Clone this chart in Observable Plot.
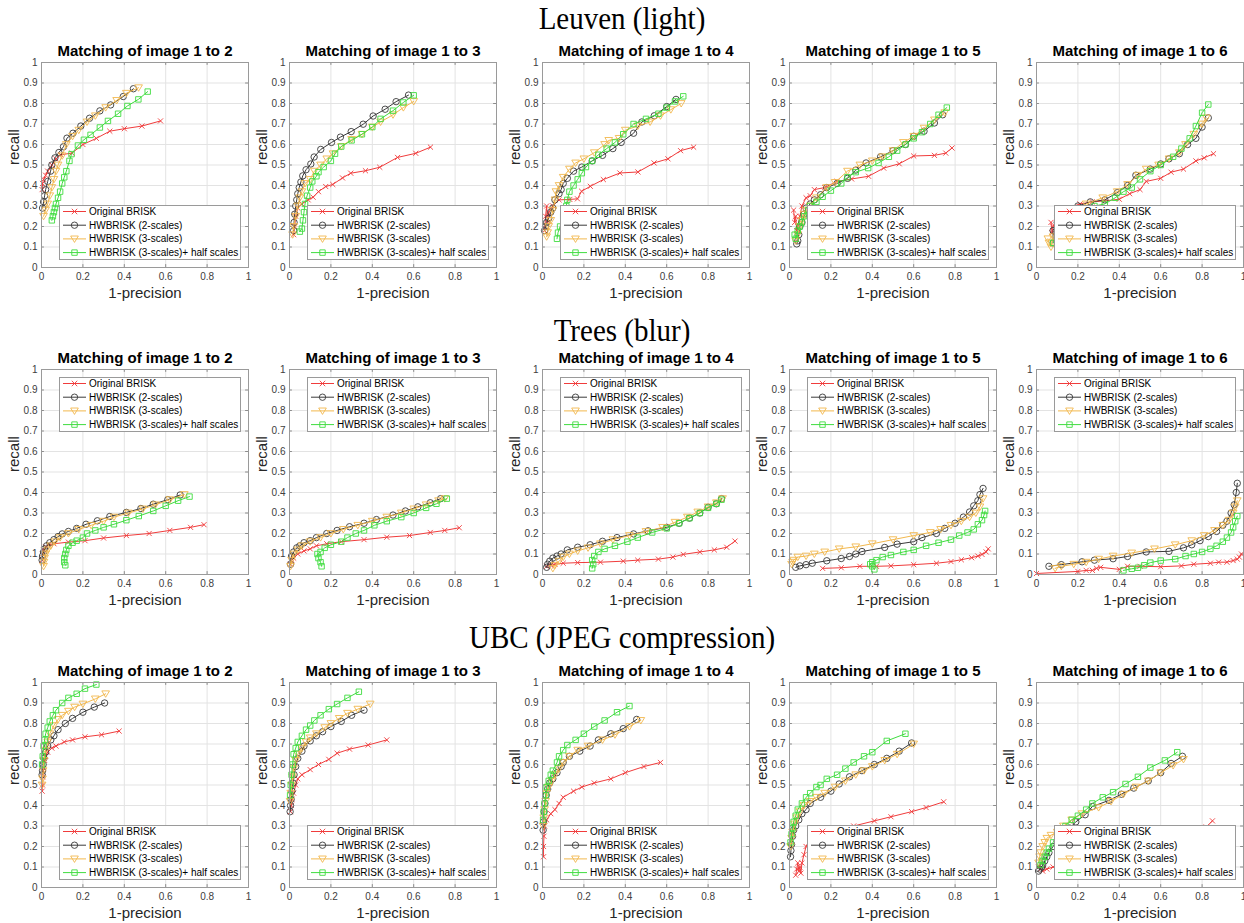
<!DOCTYPE html>
<html><head><meta charset="utf-8">
<script src="https://cdn.jsdelivr.net/npm/d3@7"></script>
<script src="https://cdn.jsdelivr.net/npm/@observablehq/plot@0.6"></script>
<style>
body{margin:0;background:#fff;width:1244px;height:923px;position:relative;overflow:hidden;font-family:"Liberation Sans",Arial,sans-serif;}
.rowtitle{position:absolute;left:0;width:1244px;text-align:center;font-family:"Liberation Serif","Times New Roman",serif;font-size:29px;color:#000;line-height:34px;transform:scaleY(1.12);transform-origin:50% 50%;}
.panel{position:absolute;}
.panel svg{overflow:visible;max-width:none;display:block;}
</style></head><body>
<script>
const rowTitles = ["Leuven (light)", "Trees (blur)", "UBC (JPEG compression)"];
const panelTitles = ["Matching of image 1 to 2","Matching of image 1 to 3","Matching of image 1 to 4","Matching of image 1 to 5","Matching of image 1 to 6"];
const seriesNames = ["Original BRISK","HWBRISK (2-scales)","HWBRISK (3-scales)","HWBRISK (3-scales)+ half scales"];
const xTicks = [0,0.2,0.4,0.6,0.8,1];
const xTickLabels = ["0","0.2","0.4","0.6","0.8","1"];
const yTicks = [0,0.1,0.2,0.3,0.4,0.5,0.6,0.7,0.8,0.9,1];
const yTickLabels = ["0","0.1","0.2","0.3","0.4","0.5","0.6","0.7","0.8","0.9","1"];
const xLabel = "1-precision";
const yLabel = "recall";

// ---- Leuven (light) ----
const leuvenOrig = [
 [[0.003,0.38],[0.005,0.41],[0.01,0.43],[0.02,0.45],[0.03,0.47],[0.05,0.5],[0.07,0.53],[0.092,0.55],[0.147,0.558],[0.2,0.6],[0.265,0.63],[0.33,0.665],[0.4,0.677],[0.485,0.69],[0.575,0.715]],
 [[0.02,0.16],[0.025,0.2],[0.03,0.25],[0.04,0.29],[0.06,0.31],[0.09,0.33],[0.114,0.343],[0.14,0.37],[0.175,0.395],[0.209,0.405],[0.256,0.437],[0.296,0.46],[0.367,0.472],[0.436,0.489],[0.522,0.537],[0.61,0.557],[0.681,0.587]],
 [[0.01,0.18],[0.015,0.25],[0.02,0.3],[0.025,0.22],[0.03,0.27],[0.05,0.3],[0.08,0.33],[0.132,0.332],[0.169,0.335],[0.189,0.372],[0.231,0.396],[0.294,0.429],[0.374,0.461],[0.461,0.466],[0.539,0.51],[0.606,0.53],[0.667,0.57],[0.73,0.587]],
 [[0.02,0.28],[0.025,0.22],[0.03,0.25],[0.035,0.18],[0.04,0.2],[0.05,0.25],[0.06,0.3],[0.08,0.34],[0.1,0.35],[0.12,0.38],[0.17,0.39],[0.23,0.42],[0.3,0.432],[0.382,0.445],[0.455,0.485],[0.53,0.506],[0.6,0.544],[0.7,0.547],[0.755,0.558],[0.785,0.583]],
 [[0.07,0.22],[0.075,0.17],[0.08,0.2],[0.1,0.24],[0.15,0.29],[0.21,0.31],[0.27,0.32],[0.33,0.325],[0.4,0.333],[0.45,0.36],[0.5,0.38],[0.53,0.42],[0.6,0.435],[0.65,0.465],[0.71,0.48],[0.77,0.52],[0.81,0.535],[0.855,0.555]]
];
const leuvenHW2 = [
 [[0.005,0.29],[0.01,0.32],[0.015,0.35],[0.02,0.38],[0.03,0.42],[0.044,0.47],[0.05,0.5],[0.065,0.535],[0.084,0.561],[0.106,0.589],[0.123,0.631],[0.152,0.655],[0.19,0.69],[0.232,0.728],[0.282,0.764],[0.334,0.793],[0.395,0.834],[0.444,0.872]],
 [[0.02,0.18],[0.022,0.22],[0.025,0.26],[0.03,0.3],[0.035,0.33],[0.04,0.36],[0.047,0.39],[0.055,0.417],[0.064,0.447],[0.08,0.477],[0.103,0.505],[0.119,0.539],[0.151,0.576],[0.203,0.61],[0.246,0.636],[0.298,0.663],[0.356,0.699],[0.404,0.739],[0.462,0.772],[0.515,0.809],[0.575,0.841]],
 [[0.01,0.18],[0.015,0.2],[0.02,0.22],[0.03,0.24],[0.04,0.27],[0.05,0.29],[0.06,0.33],[0.08,0.36],[0.09,0.38],[0.1,0.41],[0.12,0.435],[0.15,0.47],[0.19,0.49],[0.24,0.52],[0.29,0.547],[0.34,0.58],[0.38,0.61],[0.44,0.655],[0.48,0.71],[0.54,0.74],[0.6,0.785],[0.645,0.82]],
 [[0.035,0.115],[0.04,0.13],[0.045,0.16],[0.05,0.2],[0.06,0.22],[0.07,0.26],[0.08,0.29],[0.1,0.31],[0.12,0.33],[0.15,0.355],[0.18,0.39],[0.23,0.41],[0.28,0.435],[0.32,0.475],[0.37,0.51],[0.44,0.54],[0.5,0.57],[0.56,0.6],[0.6,0.64],[0.65,0.665],[0.7,0.705],[0.74,0.745]],
 [[0.08,0.12],[0.08,0.18],[0.1,0.22],[0.15,0.27],[0.2,0.3],[0.26,0.32],[0.33,0.33],[0.39,0.365],[0.44,0.4],[0.48,0.45],[0.55,0.48],[0.6,0.505],[0.64,0.53],[0.69,0.555],[0.73,0.6],[0.77,0.63],[0.8,0.685],[0.83,0.73]]
];
const leuvenHW3 = [
 [[0.01,0.25],[0.02,0.28],[0.03,0.31],[0.04,0.35],[0.05,0.39],[0.06,0.43],[0.07,0.47],[0.08,0.5],[0.1,0.545],[0.12,0.6],[0.15,0.64],[0.18,0.67],[0.22,0.71],[0.26,0.74],[0.31,0.78],[0.363,0.815],[0.41,0.85],[0.469,0.877]],
 [[0.015,0.16],[0.02,0.2],[0.03,0.25],[0.04,0.3],[0.05,0.34],[0.06,0.37],[0.075,0.41],[0.1,0.43],[0.12,0.47],[0.15,0.5],[0.18,0.53],[0.21,0.555],[0.25,0.59],[0.3,0.625],[0.35,0.65],[0.4,0.685],[0.44,0.71],[0.5,0.745],[0.55,0.78],[0.6,0.81]],
 [[0.02,0.15],[0.025,0.17],[0.03,0.2],[0.04,0.23],[0.05,0.28],[0.06,0.33],[0.065,0.37],[0.08,0.4],[0.1,0.44],[0.13,0.48],[0.16,0.51],[0.2,0.53],[0.25,0.56],[0.3,0.6],[0.32,0.62],[0.37,0.63],[0.4,0.67],[0.46,0.69],[0.52,0.71],[0.57,0.74],[0.62,0.77],[0.67,0.8]],
 [[0.03,0.13],[0.04,0.16],[0.05,0.2],[0.06,0.23],[0.07,0.26],[0.08,0.28],[0.1,0.3],[0.13,0.34],[0.18,0.39],[0.22,0.415],[0.28,0.47],[0.34,0.5],[0.4,0.52],[0.45,0.54],[0.5,0.57],[0.55,0.61],[0.6,0.64],[0.65,0.68],[0.7,0.72],[0.75,0.755]],
 [[0.055,0.14],[0.06,0.12],[0.07,0.1],[0.08,0.15],[0.12,0.2],[0.18,0.27],[0.24,0.31],[0.32,0.34],[0.39,0.37],[0.44,0.405],[0.49,0.45],[0.53,0.48],[0.59,0.5],[0.64,0.53],[0.69,0.56],[0.72,0.6],[0.76,0.65],[0.8,0.7],[0.82,0.73]]
];
const leuvenHalf = [
 [[0.05,0.23],[0.055,0.25],[0.06,0.27],[0.065,0.29],[0.07,0.31],[0.08,0.34],[0.09,0.37],[0.1,0.41],[0.11,0.44],[0.12,0.47],[0.135,0.52],[0.145,0.553],[0.176,0.595],[0.205,0.623],[0.237,0.647],[0.282,0.683],[0.321,0.715],[0.37,0.75],[0.415,0.788],[0.468,0.82],[0.513,0.858]],
 [[0.05,0.175],[0.06,0.19],[0.065,0.23],[0.07,0.27],[0.075,0.31],[0.085,0.35],[0.1,0.39],[0.11,0.42],[0.13,0.445],[0.14,0.465],[0.165,0.49],[0.2,0.52],[0.22,0.555],[0.25,0.59],[0.3,0.62],[0.35,0.65],[0.4,0.685],[0.44,0.725],[0.5,0.765],[0.55,0.805],[0.6,0.84]],
 [[0.07,0.14],[0.075,0.17],[0.085,0.2],[0.1,0.25],[0.115,0.3],[0.12,0.33],[0.13,0.37],[0.15,0.4],[0.17,0.43],[0.19,0.46],[0.21,0.49],[0.24,0.52],[0.27,0.55],[0.31,0.58],[0.35,0.61],[0.39,0.65],[0.44,0.7],[0.5,0.725],[0.56,0.75],[0.6,0.78],[0.64,0.81],[0.68,0.835]],
 [[0.025,0.16],[0.03,0.14],[0.04,0.18],[0.05,0.2],[0.06,0.22],[0.07,0.25],[0.09,0.28],[0.1,0.3],[0.13,0.32],[0.16,0.345],[0.2,0.375],[0.25,0.41],[0.28,0.44],[0.32,0.465],[0.38,0.485],[0.43,0.51],[0.48,0.54],[0.52,0.57],[0.56,0.6],[0.6,0.63],[0.64,0.66],[0.68,0.7],[0.72,0.745],[0.76,0.78]],
 [[0.08,0.12],[0.12,0.18],[0.2,0.25],[0.28,0.3],[0.33,0.31],[0.38,0.34],[0.42,0.37],[0.46,0.39],[0.5,0.43],[0.55,0.47],[0.6,0.5],[0.66,0.54],[0.7,0.58],[0.74,0.63],[0.77,0.69],[0.8,0.755],[0.83,0.795]]
];

// ---- Trees (blur) ----
const treesOrig = [
 [[0.002,0.07],[0.005,0.1],[0.01,0.12],[0.02,0.135],[0.035,0.145],[0.06,0.15],[0.13,0.158],[0.21,0.165],[0.3,0.178],[0.41,0.19],[0.52,0.2],[0.62,0.215],[0.72,0.23],[0.785,0.243]],
 [[0.005,0.05],[0.01,0.07],[0.02,0.08],[0.04,0.1],[0.07,0.115],[0.1,0.125],[0.13,0.14],[0.18,0.15],[0.25,0.16],[0.36,0.17],[0.47,0.182],[0.58,0.19],[0.68,0.205],[0.75,0.215],[0.82,0.228]],
 [[0.02,0.04],[0.04,0.045],[0.06,0.05],[0.1,0.055],[0.17,0.058],[0.28,0.06],[0.39,0.065],[0.46,0.07],[0.56,0.075],[0.63,0.085],[0.68,0.098],[0.76,0.11],[0.83,0.12],[0.89,0.133],[0.93,0.163]],
 [[0.16,0.03],[0.25,0.033],[0.34,0.04],[0.42,0.04],[0.49,0.042],[0.6,0.048],[0.71,0.055],[0.78,0.063],[0.83,0.072],[0.88,0.082],[0.91,0.09],[0.93,0.098],[0.95,0.11],[0.96,0.125]],
 [[0.0,0.005],[0.2,0.015],[0.24,0.02],[0.27,0.02],[0.29,0.03],[0.31,0.035],[0.4,0.025],[0.44,0.04],[0.5,0.04],[0.6,0.038],[0.7,0.042],[0.76,0.05],[0.84,0.055],[0.88,0.06],[0.92,0.06],[0.95,0.068],[0.97,0.075],[0.98,0.085],[0.99,0.1]]
];
const treesHW2 = [
 [[0.003,0.07],[0.005,0.09],[0.01,0.11],[0.015,0.125],[0.025,0.14],[0.04,0.155],[0.06,0.17],[0.08,0.185],[0.1,0.198],[0.13,0.21],[0.17,0.225],[0.215,0.245],[0.27,0.262],[0.33,0.283],[0.41,0.303],[0.48,0.322],[0.54,0.343],[0.61,0.365],[0.67,0.388]],
 [[0.005,0.05],[0.01,0.09],[0.02,0.11],[0.035,0.13],[0.05,0.14],[0.07,0.155],[0.1,0.165],[0.13,0.18],[0.18,0.2],[0.23,0.215],[0.29,0.233],[0.36,0.25],[0.42,0.268],[0.5,0.29],[0.56,0.31],[0.62,0.33],[0.68,0.35],[0.73,0.37]],
 [[0.02,0.035],[0.025,0.05],[0.035,0.065],[0.05,0.08],[0.07,0.09],[0.09,0.1],[0.12,0.12],[0.17,0.133],[0.23,0.145],[0.29,0.162],[0.36,0.18],[0.44,0.198],[0.51,0.213],[0.6,0.23],[0.66,0.25],[0.71,0.275],[0.76,0.3],[0.8,0.328],[0.84,0.345],[0.865,0.37]],
 [[0.03,0.035],[0.05,0.042],[0.08,0.048],[0.11,0.055],[0.18,0.067],[0.25,0.078],[0.29,0.088],[0.32,0.1],[0.35,0.112],[0.46,0.132],[0.52,0.148],[0.6,0.16],[0.64,0.18],[0.71,0.2],[0.75,0.225],[0.8,0.25],[0.84,0.28],[0.87,0.305],[0.89,0.335],[0.91,0.36],[0.92,0.39],[0.935,0.42]],
 [[0.06,0.04],[0.12,0.048],[0.22,0.062],[0.28,0.07],[0.37,0.077],[0.44,0.088],[0.53,0.11],[0.64,0.113],[0.71,0.13],[0.75,0.145],[0.79,0.165],[0.83,0.185],[0.87,0.21],[0.9,0.24],[0.92,0.26],[0.94,0.3],[0.955,0.34],[0.965,0.4],[0.97,0.445]]
];
const treesHW3 = [
 [[0.01,0.04],[0.012,0.06],[0.015,0.08],[0.02,0.1],[0.03,0.12],[0.045,0.14],[0.065,0.16],[0.09,0.18],[0.13,0.2],[0.18,0.22],[0.24,0.24],[0.3,0.26],[0.35,0.28],[0.42,0.3],[0.49,0.32],[0.55,0.34],[0.62,0.365],[0.69,0.39]],
 [[0.005,0.04],[0.01,0.07],[0.02,0.1],[0.04,0.12],[0.06,0.14],[0.1,0.16],[0.15,0.18],[0.2,0.2],[0.26,0.22],[0.33,0.24],[0.4,0.26],[0.47,0.28],[0.54,0.3],[0.6,0.32],[0.66,0.34],[0.72,0.36],[0.75,0.37]],
 [[0.05,0.03],[0.06,0.045],[0.08,0.065],[0.1,0.085],[0.13,0.1],[0.17,0.115],[0.22,0.13],[0.28,0.15],[0.34,0.17],[0.42,0.19],[0.5,0.21],[0.58,0.23],[0.64,0.255],[0.7,0.28],[0.75,0.305],[0.8,0.33],[0.84,0.35],[0.87,0.37]],
 [[0.01,0.05],[0.015,0.06],[0.02,0.07],[0.04,0.085],[0.08,0.09],[0.12,0.1],[0.17,0.11],[0.24,0.125],[0.32,0.135],[0.4,0.15],[0.5,0.17],[0.6,0.19],[0.68,0.205],[0.73,0.22],[0.78,0.24],[0.83,0.26],[0.87,0.28],[0.9,0.3],[0.92,0.33],[0.935,0.37]],
 [[0.09,0.03],[0.12,0.04],[0.18,0.05],[0.24,0.06],[0.3,0.075],[0.37,0.09],[0.46,0.105],[0.57,0.125],[0.67,0.145],[0.75,0.165],[0.81,0.19],[0.86,0.215],[0.9,0.24],[0.93,0.265],[0.95,0.3],[0.96,0.33],[0.97,0.36]]
];
const treesHalf = [
 [[0.115,0.045],[0.11,0.06],[0.11,0.08],[0.115,0.1],[0.12,0.12],[0.13,0.14],[0.15,0.155],[0.17,0.165],[0.2,0.18],[0.22,0.2],[0.26,0.215],[0.3,0.23],[0.35,0.245],[0.41,0.265],[0.47,0.285],[0.54,0.31],[0.6,0.335],[0.66,0.36],[0.715,0.38]],
 [[0.155,0.04],[0.15,0.06],[0.14,0.08],[0.135,0.1],[0.15,0.11],[0.17,0.13],[0.2,0.145],[0.25,0.16],[0.28,0.18],[0.32,0.2],[0.36,0.215],[0.41,0.24],[0.47,0.26],[0.54,0.28],[0.6,0.3],[0.66,0.325],[0.71,0.345],[0.76,0.37]],
 [[0.24,0.03],[0.245,0.05],[0.24,0.07],[0.25,0.09],[0.27,0.11],[0.3,0.125],[0.35,0.14],[0.41,0.16],[0.46,0.18],[0.53,0.205],[0.6,0.225],[0.66,0.25],[0.71,0.275],[0.76,0.3],[0.8,0.325],[0.84,0.345],[0.865,0.365]],
 [[0.41,0.025],[0.4,0.04],[0.39,0.05],[0.4,0.06],[0.42,0.07],[0.45,0.085],[0.49,0.095],[0.55,0.11],[0.6,0.12],[0.66,0.14],[0.72,0.155],[0.78,0.17],[0.82,0.19],[0.86,0.205],[0.89,0.22],[0.91,0.245],[0.93,0.265],[0.94,0.29],[0.945,0.31]],
 [[0.42,0.02],[0.46,0.028],[0.49,0.033],[0.52,0.045],[0.55,0.058],[0.6,0.068],[0.67,0.075],[0.72,0.09],[0.76,0.1],[0.8,0.11],[0.84,0.125],[0.87,0.14],[0.9,0.16],[0.92,0.18],[0.94,0.205],[0.95,0.23],[0.96,0.26],[0.97,0.285]]
];

// ---- UBC (JPEG compression) ----
const ubcOrig = [
 [[0.003,0.47],[0.005,0.5],[0.007,0.54],[0.01,0.58],[0.015,0.62],[0.02,0.64],[0.03,0.66],[0.05,0.68],[0.07,0.69],[0.11,0.71],[0.15,0.72],[0.21,0.735],[0.29,0.745],[0.375,0.763]],
 [[0.005,0.37],[0.008,0.4],[0.012,0.43],[0.02,0.46],[0.03,0.5],[0.04,0.53],[0.06,0.55],[0.1,0.575],[0.14,0.6],[0.19,0.625],[0.23,0.655],[0.29,0.675],[0.38,0.695],[0.47,0.72]],
 [[0.005,0.15],[0.005,0.2],[0.007,0.25],[0.01,0.3],[0.02,0.33],[0.04,0.36],[0.06,0.38],[0.08,0.41],[0.1,0.44],[0.15,0.47],[0.19,0.49],[0.25,0.51],[0.33,0.53],[0.4,0.56],[0.49,0.59],[0.57,0.61]],
 [[0.03,0.06],[0.035,0.09],[0.04,0.12],[0.045,0.08],[0.05,0.1],[0.055,0.07],[0.06,0.12],[0.07,0.16],[0.08,0.2],[0.1,0.24],[0.15,0.26],[0.22,0.28],[0.31,0.3],[0.41,0.325],[0.49,0.345],[0.59,0.37],[0.66,0.39],[0.745,0.418]],
 [[0.01,0.1],[0.02,0.09],[0.03,0.08],[0.05,0.09],[0.08,0.1],[0.12,0.11],[0.2,0.13],[0.3,0.15],[0.4,0.17],[0.5,0.19],[0.6,0.21],[0.7,0.24],[0.78,0.27],[0.82,0.295],[0.85,0.325]]
];
const ubcHW2 = [
 [[0.003,0.55],[0.005,0.57],[0.008,0.6],[0.012,0.63],[0.02,0.66],[0.03,0.69],[0.045,0.72],[0.06,0.74],[0.08,0.77],[0.115,0.8],[0.15,0.825],[0.2,0.855],[0.255,0.88],[0.305,0.9]],
 [[0.003,0.37],[0.005,0.4],[0.008,0.43],[0.012,0.47],[0.017,0.51],[0.022,0.55],[0.03,0.59],[0.04,0.63],[0.06,0.665],[0.07,0.69],[0.1,0.715],[0.13,0.74],[0.16,0.76],[0.2,0.785],[0.25,0.81],[0.3,0.84],[0.36,0.865]],
 [[0.003,0.28],[0.005,0.32],[0.008,0.37],[0.012,0.41],[0.018,0.45],[0.025,0.48],[0.035,0.51],[0.05,0.53],[0.07,0.56],[0.09,0.59],[0.1,0.61],[0.13,0.64],[0.18,0.665],[0.23,0.69],[0.27,0.72],[0.33,0.75],[0.39,0.775],[0.455,0.82]],
 [[0.005,0.15],[0.007,0.18],[0.01,0.21],[0.015,0.25],[0.02,0.28],[0.03,0.3],[0.045,0.33],[0.06,0.36],[0.08,0.38],[0.1,0.41],[0.15,0.44],[0.2,0.47],[0.24,0.505],[0.29,0.54],[0.35,0.57],[0.41,0.6],[0.47,0.63],[0.53,0.665],[0.59,0.705]],
 [[0.01,0.08],[0.015,0.09],[0.025,0.1],[0.03,0.11],[0.04,0.13],[0.05,0.15],[0.06,0.17],[0.08,0.2],[0.1,0.23],[0.13,0.26],[0.16,0.29],[0.19,0.32],[0.235,0.355],[0.27,0.395],[0.35,0.425],[0.41,0.455],[0.47,0.485],[0.54,0.52],[0.6,0.56],[0.65,0.605],[0.705,0.64]]
];
const ubcHW3 = [
 [[0.003,0.5],[0.005,0.53],[0.008,0.57],[0.012,0.62],[0.02,0.67],[0.03,0.71],[0.04,0.75],[0.06,0.79],[0.08,0.82],[0.1,0.84],[0.13,0.86],[0.16,0.88],[0.2,0.895],[0.26,0.92],[0.31,0.945]],
 [[0.003,0.42],[0.006,0.46],[0.01,0.5],[0.015,0.54],[0.02,0.58],[0.03,0.62],[0.04,0.65],[0.06,0.68],[0.08,0.71],[0.1,0.73],[0.13,0.75],[0.17,0.78],[0.2,0.8],[0.24,0.825],[0.28,0.85],[0.33,0.87],[0.39,0.895]],
 [[0.003,0.3],[0.006,0.34],[0.01,0.38],[0.015,0.42],[0.02,0.46],[0.03,0.49],[0.045,0.52],[0.06,0.55],[0.08,0.58],[0.1,0.61],[0.13,0.64],[0.17,0.67],[0.22,0.69],[0.29,0.72],[0.35,0.745],[0.42,0.785],[0.475,0.815]],
 [[0.005,0.2],[0.01,0.24],[0.015,0.27],[0.025,0.31],[0.035,0.34],[0.05,0.37],[0.07,0.4],[0.1,0.42],[0.13,0.44],[0.17,0.46],[0.22,0.49],[0.27,0.52],[0.32,0.55],[0.36,0.57],[0.4,0.59],[0.46,0.62],[0.52,0.65],[0.6,0.7]],
 [[0.01,0.12],[0.015,0.15],[0.02,0.17],[0.03,0.2],[0.04,0.22],[0.05,0.24],[0.07,0.255],[0.1,0.27],[0.13,0.3],[0.17,0.33],[0.22,0.36],[0.3,0.39],[0.36,0.42],[0.42,0.455],[0.48,0.49],[0.54,0.52],[0.6,0.56],[0.66,0.595],[0.71,0.625]]
];
const ubcHalf = [
 [[0.003,0.6],[0.006,0.64],[0.01,0.69],[0.015,0.72],[0.02,0.75],[0.03,0.78],[0.04,0.81],[0.055,0.84],[0.07,0.865],[0.1,0.9],[0.13,0.925],[0.17,0.945],[0.21,0.97],[0.265,0.99]],
 [[0.003,0.45],[0.006,0.5],[0.01,0.55],[0.015,0.6],[0.02,0.65],[0.03,0.68],[0.04,0.71],[0.06,0.74],[0.08,0.77],[0.1,0.79],[0.12,0.815],[0.15,0.84],[0.19,0.87],[0.23,0.895],[0.28,0.925],[0.335,0.955]],
 [[0.003,0.33],[0.006,0.37],[0.01,0.41],[0.015,0.45],[0.02,0.49],[0.03,0.52],[0.04,0.55],[0.05,0.57],[0.07,0.61],[0.08,0.64],[0.1,0.67],[0.12,0.695],[0.16,0.72],[0.2,0.75],[0.25,0.785],[0.3,0.815],[0.36,0.855],[0.42,0.885]],
 [[0.005,0.22],[0.01,0.26],[0.015,0.29],[0.02,0.32],[0.03,0.35],[0.04,0.38],[0.06,0.41],[0.08,0.44],[0.1,0.46],[0.13,0.49],[0.15,0.5],[0.18,0.53],[0.23,0.55],[0.27,0.58],[0.31,0.61],[0.36,0.64],[0.4,0.66],[0.47,0.715],[0.56,0.75]],
 [[0.02,0.11],[0.03,0.13],[0.04,0.15],[0.05,0.17],[0.06,0.19],[0.08,0.22],[0.11,0.26],[0.14,0.3],[0.17,0.33],[0.2,0.35],[0.24,0.38],[0.27,0.41],[0.32,0.44],[0.37,0.465],[0.43,0.505],[0.49,0.54],[0.55,0.585],[0.62,0.62],[0.68,0.66]]
];

const rowsData = [
  [leuvenOrig, leuvenHW2, leuvenHW3, leuvenHalf],
  [treesOrig, treesHW2, treesHW3, treesHalf],
  [ubcOrig, ubcHW2, ubcHW3, ubcHalf]
];

// ---- styling / layout ----
const seriesColors = ["#f03c3c", "#3a3a3a", "#f2b84e", "#3fdc3f"];
const symX = {draw(c, s){ const r = Math.sqrt(s/Math.PI)*0.85; c.moveTo(-r,-r); c.lineTo(r,r); c.moveTo(-r,r); c.lineTo(r,-r);} };
const symCircle = {draw(c, s){ const r = Math.sqrt(s/Math.PI); c.moveTo(r,0); c.arc(0,0,r,0,2*Math.PI); c.closePath();} };
const symTriDown = {draw(c, s){ const r = Math.sqrt(s/Math.PI); c.moveTo(0, r*1.1); c.lineTo(-r*1.2, -r*0.9); c.lineTo(r*1.2, -r*0.9); c.closePath();} };
const symSquare = {draw(c, s){ const r = Math.sqrt(s/Math.PI)*0.85; c.moveTo(-r,-r); c.lineTo(r,-r); c.lineTo(r,r); c.lineTo(-r,r); c.closePath();} };
const seriesSymbols = [symX, symCircle, symTriDown, symSquare];

const frameLefts = [41, 289, 542, 789, 1036];
const frameTops = [62, 369, 682];
const FW = 207, FH = 205;
const ML = 44, MR = 6, MT = 32, MB = 40;
const rowTitleTops = [1, 313, 620];
const legendTop = ["bottom", "top", "bottom"];

rowTitles.forEach((t, r) => {
  const d = document.createElement("div");
  d.className = "rowtitle";
  d.style.top = rowTitleTops[r] + "px";
  d.textContent = t;
  document.body.appendChild(d);
});

rowsData.forEach((seriesArr, r) => {
  panelTitles.forEach((title, p) => {
    const marks = [
      Plot.gridX(xTicks, {stroke: "#e3e3e3", strokeOpacity: 1}),
      Plot.gridY(yTicks, {stroke: "#e3e3e3", strokeOpacity: 1}),
      Plot.axisX(xTicks, {tickSize: 0, tickPadding: 5, label: null, tickFormat: d => xTickLabels[xTicks.indexOf(d)], fontSize: 10}),
      Plot.axisY(yTicks, {tickSize: 0, tickPadding: 4, label: null, tickFormat: d => yTickLabels[yTicks.indexOf(d)], fontSize: 10}),
      Plot.ruleX(xTicks, {x: d => d, y1: 0, y2: 0.014, stroke: "#8c8c8c"}),
      Plot.ruleX(xTicks, {x: d => d, y1: 0.986, y2: 1, stroke: "#8c8c8c"}),
      Plot.ruleY(yTicks, {y: d => d, x1: 0, x2: 0.014, stroke: "#8c8c8c"}),
      Plot.ruleY(yTicks, {y: d => d, x1: 0.986, x2: 1, stroke: "#8c8c8c"})
    ];
    seriesArr.forEach((arr, s) => {
      const pts = arr[p].map(([x, y]) => ({x, y}));
      marks.push(Plot.line(pts, {x: "x", y: "y", stroke: seriesColors[s], strokeWidth: 1}));
      marks.push(Plot.dot(pts, {x: "x", y: "y", stroke: seriesColors[s], fill: "none", symbol: seriesSymbols[s], r: s === 0 ? 3 : 3.2, strokeWidth: 0.9}));
    });
    marks.push(Plot.frame({stroke: "#9a9a9a", strokeWidth: 1}));
    marks.push(Plot.text([title], {frameAnchor: "top", lineAnchor: "middle", dy: -11, fontWeight: "bold", fontSize: 15, fill: "#000"}));
    marks.push(Plot.text([xLabel], {frameAnchor: "bottom", lineAnchor: "middle", dy: 26, fontSize: 15, fill: "#262626"}));
    marks.push(Plot.text([yLabel], {frameAnchor: "left", lineAnchor: "middle", dx: -27, rotate: -90, fontSize: 15, fill: "#262626"}));

    const W = ML + FW + MR, H = MT + FH + MB;
    const chart = Plot.plot({
      width: W, height: H,
      marginLeft: ML, marginRight: MR, marginTop: MT, marginBottom: MB,
      x: {domain: [0, 1]}, y: {domain: [0, 1]},
      style: {fontFamily: "'Liberation Sans', Arial, sans-serif", fontSize: "10px", color: "#404040", background: "transparent", overflow: "visible", maxWidth: "none"},
      marks
    });

    // legend drawn into the panel's own SVG, on top of the marks
    const LW = 182, LH = 55;
    const lx = ML + 18;
    const ly = legendTop[r] === "top" ? MT + 8 : MT + FH - 7 - LH;
    const lg = d3.select(chart).append("g").attr("transform", `translate(${lx},${ly})`)
      .attr("text-anchor", "start");
    lg.append("rect").attr("x", 0.5).attr("y", 0.5).attr("width", LW - 1).attr("height", LH - 1)
      .attr("fill", "#ffffff").attr("stroke", "#9a9a9a");
    seriesNames.forEach((name, s) => {
      const yy = 6.5 + s * 13.7;
      lg.append("line").attr("x1", 4).attr("x2", 27).attr("y1", yy).attr("y2", yy)
        .attr("stroke", seriesColors[s]).attr("stroke-width", 1);
      lg.append("path").attr("d", d3.symbol().type(seriesSymbols[s]).size(Math.PI * 3.2 * 3.2))
        .attr("transform", `translate(15.5,${yy})`)
        .attr("fill", "none").attr("stroke", seriesColors[s]).attr("stroke-width", 0.9);
      lg.append("text").attr("x", 30).attr("y", yy).attr("dy", "0.35em").attr("font-size", 10)
        .attr("text-anchor", "start")
        .attr("font-family", "'Liberation Sans', Arial, sans-serif").attr("fill", "#000").text(name);
    });

    const wrap = document.createElement("div");
    wrap.className = "panel";
    wrap.style.left = (frameLefts[p] - ML) + "px";
    wrap.style.top = (frameTops[r] - MT) + "px";
    wrap.style.width = W + "px";
    wrap.style.height = H + "px";
    wrap.appendChild(chart);
    document.body.appendChild(wrap);
  });
});
</script>
</body></html>
